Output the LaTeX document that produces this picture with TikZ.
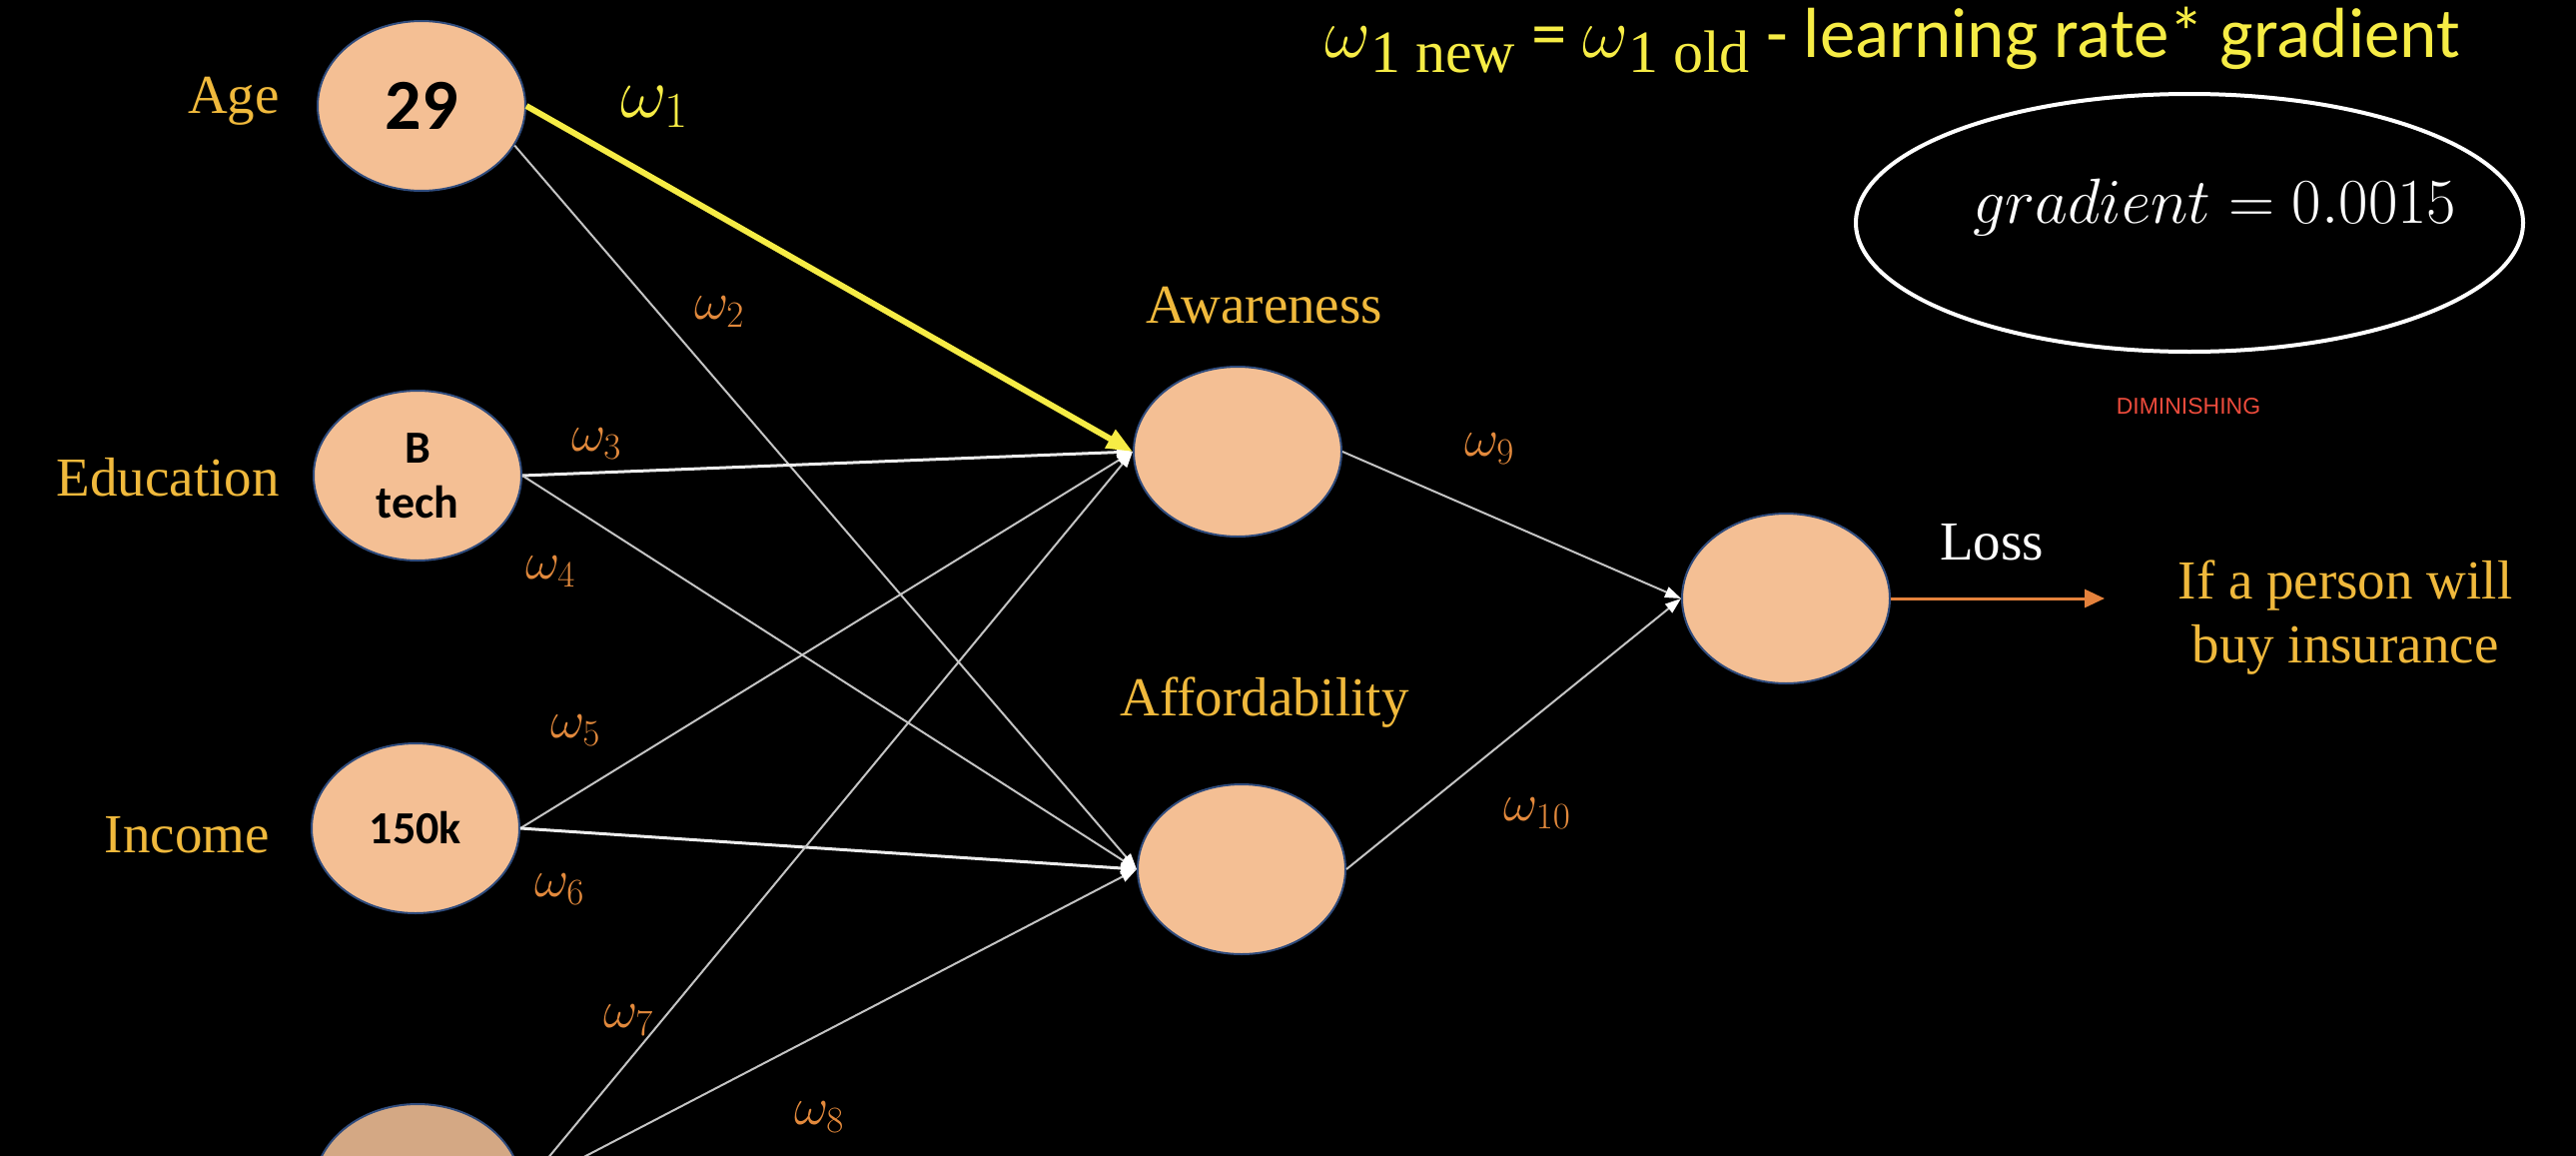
\RequirePackage{fix-cm}
\documentclass[tikz,border=0pt]{standalone}
\usepackage{fontspec}
\setmainfont{Liberation Serif}
\newfontfamily\calibri{Carlito}
\newfontfamily\arialf{Liberation Sans}
\usetikzlibrary{arrows.meta,shapes.geometric}
\definecolor{peach}{HTML}{F4BF94}
\definecolor{peachd}{HTML}{D4A884}
\definecolor{nodeborder}{HTML}{2F4B7C}
\definecolor{labgold}{HTML}{F0B93C}
\definecolor{wor}{HTML}{E2893C}
\definecolor{wyel}{HTML}{F6EC45}
\definecolor{linegray}{HTML}{C4C4C4}
\definecolor{arrowor}{HTML}{E5823C}
\definecolor{dimred}{HTML}{EC4B3C}
\begin{document}
\begin{tikzpicture}[x=1pt,y=-1pt,
  neuron/.style={ellipse, draw=nodeborder, line width=2pt, fill=peach,
    minimum width=208pt, minimum height=170pt, inner sep=0pt,
    font=\calibri\bfseries\fontsize{46}{55}\selectfont, align=center, text=black},
  lab/.style={inner sep=0pt, text=labgold, font=\fontsize{55}{64}\selectfont},
  wlab/.style={inner sep=0pt, text=wor, font=\fontsize{53}{60}\selectfont},
  garrow/.style={draw=linegray, line width=2pt, -{Triangle[length=16pt,width=11pt,color=white]}},
  thickline/.style={line width=3pt, draw=white!85!gray},
  yarrow/.style={draw=wyel, line width=6pt, -{Triangle[length=26pt,width=20pt]}},
  oarrow/.style={draw=arrowor, line width=3pt, -{Triangle[length=20pt,width=18pt]}}
]
\useasboundingbox (0,0) rectangle (2579,1156);
\fill[black] (-20,-20) rectangle (2599,1176);

% neurons
\node[neuron, font=\calibri\bfseries\fontsize{72}{80}\selectfont] (age) at (422,106) {29};
\node[neuron] (edu) at (418,476) {B\\tech};
\node[neuron] (inc) at (416,829) {150k};
\node[neuron, fill=peachd] (bot) at (418,1190) {};
\node[neuron] (aw) at (1239,452) {};
\node[neuron] (af) at (1243,870) {};
\node[neuron] (out) at (1788,599) {};

% labels
\node[lab, anchor=east] (agel) at (280,101) {Age};
\node[lab, anchor=east] (edul) at (280,478) {Education};
\node[lab, anchor=east] (incl) at (270,836) {Income};
\node[lab] (awl) at (1266,306) {Awareness};
\node[lab] (afl) at (1266,703) {Affordability};
\node[lab, text=white] (lossl) at (1994,543) {Loss};
\node[lab, align=center] (tgt) at (2348,618) {If a person will\\buy insurance};

% weights
\node[wlab, text=wyel, font=\fontsize{72}{80}\selectfont] (w1) at (655,107) {$\omega_1$};
\node[wlab] (w2) at (720,312) {$\omega_2$};
\node[wlab] (w3) at (597,444) {$\omega_3$};
\node[wlab] (w4) at (551,572) {$\omega_4$};
\node[wlab] (w5) at (576,731) {$\omega_5$};
\node[wlab] (w6) at (560,890) {$\omega_6$};
\node[wlab] (w7) at (629,1021) {$\omega_7$};
\node[wlab] (w8) at (820,1118) {$\omega_8$};
\node[wlab] (w9) at (1491,449) {$\omega_9$};
\node[wlab] (w10) at (1539,814) {$\omega_{10}$};

% formula
\node[anchor=base west, inner sep=0pt, text=wyel, font=\calibri\fontsize{71}{80}\selectfont] (formula) at (1326,57)
  {$\omega$\raisebox{-15pt}{\rmfamily\fontsize{60}{60}\selectfont 1 new} = $\omega$\raisebox{-15pt}{\rmfamily\fontsize{60}{60}\selectfont 1 old} - learning rate* gradient};

% gradient ellipse
\node[ellipse, draw=white, line width=4pt, minimum width=668pt, minimum height=258pt, inner sep=0pt] (gbox) at (2192,223) {};
\node[anchor=base west, inner sep=0pt, text=white, font=\fontsize{64}{70}\selectfont] (grad) at (1975,223) {$gradient = 0.0015$};
\node[inner sep=0pt, text=dimred, font=\arialf\fontsize{23}{26}\selectfont] (dim) at (2191,407) {DIMINISHING};

% connectors
\draw[garrow] (age.-23) -- (af.west);
\draw[garrow, thickline] (edu.east) -- (aw.west);
\draw[garrow] (edu.east) -- (af.west);
\draw[garrow] (inc.east) -- (aw.west);
\draw[garrow, thickline] (inc.east) -- (af.west);
\draw[garrow] (bot.east) -- (aw.west);
\draw[garrow] (bot.east) -- (af.west);
\draw[garrow] (aw.east) -- (out.west);
\draw[garrow] (af.east) -- (out.west);
\draw[yarrow] (age.east) -- (aw.west);
\coordinate (oend) at (2107,599);
\draw[oarrow] (out.east) -- (oend);
\end{tikzpicture}
\end{document}
